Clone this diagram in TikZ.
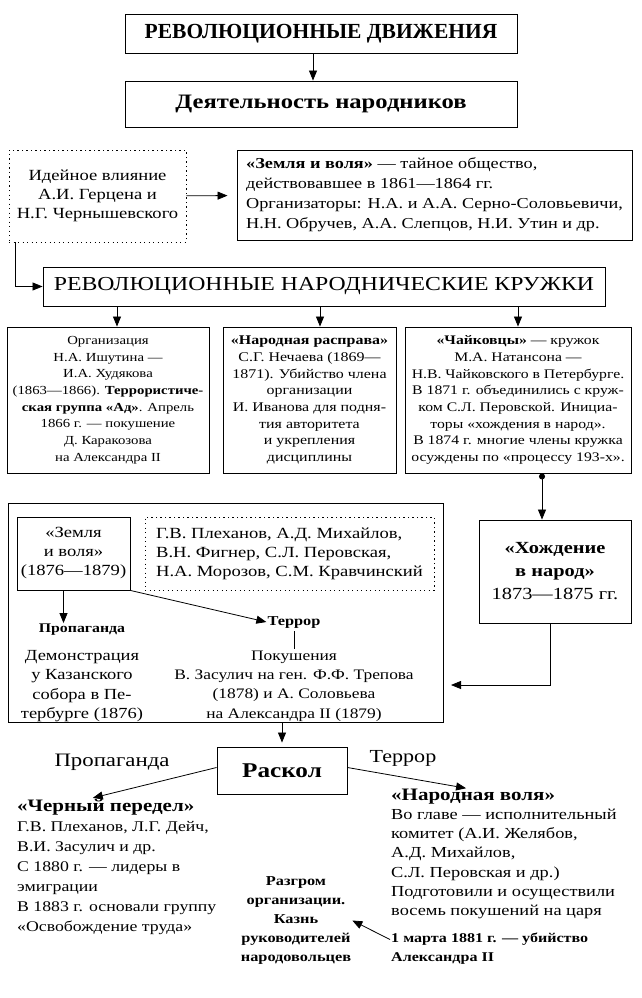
\documentclass[tikz,border=0pt]{standalone}
\usepackage{fontspec}
\setmainfont{Liberation Serif}[FakeStretch=1.2]
\newfontfamily\headserif{Liberation Serif}
\usetikzlibrary{arrows.meta}
\newcommand{\fsz}[2]{\fontsize{#1}{#2}\selectfont}

\begin{document}
\begin{tikzpicture}[x=1pt,y=-1pt,
  boxed/.style={draw,line width=0.9pt,inner sep=0pt,align=center},
  dotboxed/.style={boxed,dash pattern=on 1.2pt off 3.3pt},
  txt/.style={inner sep=1pt,align=center},
  arr/.style={line width=0.8pt,-{Triangle[length=10pt,width=8pt]}}]

\useasboundingbox (0,0) rectangle (641,998);

% Title boxes
\node[boxed,minimum width=392pt,minimum height=39pt,font=\headserif\bfseries\fsz{21.5}{24}] (rev) at (321,33.5) {РЕВОЛЮЦИОННЫЕ ДВИЖЕНИЯ};
\node[boxed,minimum width=392pt,minimum height=46pt,font=\bfseries\fsz{20.5}{24}] (act) at (321,104) {Деятельность народников};
\draw[arr] ([xshift=-8pt]rev.south) -- ([xshift=-8pt]act.north);

% Influence and first "Zemlya i volya"
\node[dotboxed,minimum width=177pt,minimum height=92pt,font=\fsz{15.5}{19}] (idea) at (97.5,196) {Идейное влияние\\А.И. Герцена и\\Н.Г. Чернышевского};
\node[boxed,align=left,minimum width=395pt,minimum height=90pt,font=\fsz{15.2}{20}] (zemlya) at (434.5,195) {\textbf{«Земля и воля»} — тайное общество,\\действовавшее в 1861—1864 гг.\\Организаторы: Н.А. и А.А. Серно-Соловьевичи,\\Н.Н. Обручев, А.А. Слепцов, Н.И. Утин и др.};
\draw[arr,shorten >=9pt] (idea) -- (zemlya);

% Circles
\node[boxed,minimum width=562pt,minimum height=39pt,font=\fsz{19.8}{22}] (circles) at (324,286.5) {РЕВОЛЮЦИОННЫЕ НАРОДНИЧЕСКИЕ КРУЖКИ};
\draw[arr] ([xshift=7pt]idea.south west) |- (circles.west);

\node[boxed,minimum width=202pt,minimum height=146pt,font=\fsz{12.3}{16.7}] (ishutin) at (108,400) {Организация\\Н.А. Ишутина —\\И.А. Худякова\\(1863—1866). \textbf{Террористиче-}\\\textbf{ская группа «Ад»}. Апрель\\1866 г. — покушение\\Д. Каракозова\\на Александра II};
\node[boxed,minimum width=173pt,minimum height=146pt,font=\fsz{13.3}{16.7}] (nechaev) at (309.5,400) {\textbf{«Народная расправа»}\\С.Г. Нечаева (1869—\\1871). Убийство члена\\организации\\И. Иванова для подня-\\тия авторитета\\и укрепления\\дисциплины};
\node[boxed,minimum width=226pt,minimum height=146pt,font=\fsz{13.1}{16.7}] (chaik) at (518,400) {\textbf{«Чайковцы»} — кружок\\М.А. Натансона —\\Н.В. Чайковского в Петербурге.\\В 1871 г. объединились с круж-\\ком С.Л. Перовской. Инициа-\\торы «хождения в народ».\\В 1874 г. многие члены кружка\\осуждены по «процессу 193-х».};
\draw[arr] ([xshift=9pt]ishutin.north |- circles.south) -- ([xshift=9pt]ishutin.north);
\draw[arr] ([xshift=10.5pt]nechaev.north |- circles.south) -- ([xshift=10.5pt]nechaev.north);
\draw[arr] (chaik.north |- circles.south) -- (chaik.north);

% Going to the people
\node[boxed,minimum width=152pt,minimum height=103pt,font=\fsz{17}{23}] (walk) at (555,571.5) {\textbf{«Хождение}\\\textbf{в народ»}\\1873—1875 гг.};
\draw[line width=0.8pt,{Circle[length=6pt]}-{Triangle[length=10pt,width=8pt]}] ([xshift=24pt]chaik.south) -- ([xshift=24pt]chaik.south |- walk.north);

% Second "Zemlya i volya"
\node[boxed,minimum width=435pt,minimum height=219pt] (big) at (225.5,612.5) {};
\node[boxed,minimum width=113pt,minimum height=73pt,font=\fsz{15.5}{19}] (zv) at (73.5,553.5) {«Земля\\и воля»\\(1876—1879)};
\node[dotboxed,align=left,minimum width=289pt,minimum height=73pt,font=\fsz{15.5}{19}] (members) at (289.5,553.5) {Г.В. Плеханов, А.Д. Михайлов,\\В.Н. Фигнер, С.Л. Перовская,\\Н.А. Морозов, С.М. Кравчинский};

\node[txt,font=\bfseries\fsz{13.2}{16}] (prop) at (82,630) {Пропаганда};
\node[txt,font=\fsz{15.4}{19.3}] (demo) at (82,686) {Демонстрация\\у Казанского\\собора в Пе-\\тербурге (1876)};
\node[txt,font=\bfseries\fsz{13.6}{16}] (terr) at (294,622) {Террор};
\node[txt,font=\fsz{14.5}{19.3}] (attempt) at (294,686) {Покушения\\В. Засулич на ген. Ф.Ф. Трепова\\(1878) и А. Соловьева\\на Александра II (1879)};

\draw[arr] ([xshift=-10pt]zv.south) -- ([xshift=-10pt]zv.south |- prop.north);
\draw[arr] (zv.south east) -- (terr.west);
\draw[line width=0.6pt,shorten <=2pt,shorten >=1pt] (terr) -- (attempt);

\coordinate (back) at (451,685);
\draw[arr] ([xshift=-5pt]walk.south) |- (back);

% Split
\node[boxed,minimum width=130pt,minimum height=47pt,font=\bfseries\fsz{21}{24}] (split) at (282,770.5) {Раскол};
\draw[arr,shorten >=4pt] (split.north |- big.south) -- (split.north);

\node[txt,font=\fsz{19}{22}] (proplab) at (112,762) {Пропаганда};
\node[txt,font=\fsz{18.4}{22}] (terrlab) at (403,758) {Террор};

% Black repartition
\node[txt,anchor=west,font=\bfseries\fsz{17.5}{20}] (cp) at (16,807) {«Черный передел»};
\node[txt,anchor=west,align=left,font=\fsz{14.8}{20}] (cpbody) at (16,878) {Г.В. Плеханов, Л.Г. Дейч,\\В.И. Засулич и др.\\С 1880 г. — лидеры в\\эмиграции\\В 1883 г. основали группу\\«Освобождение труда»};

% People's will
\node[txt,anchor=west,font=\bfseries\fsz{17.5}{20}] (nv) at (390,797) {«Народная воля»};
\node[txt,anchor=west,align=left,font=\fsz{15.3}{19.2}] (nvbody) at (390,864) {Во главе — исполнительный\\комитет (А.И. Желябов,\\А.Д. Михайлов,\\С.Л. Перовская и др.)\\Подготовили и осуществили\\восемь покушений на царя};

\draw[arr] ([yshift=3pt]split.west) -- ([xshift=-13pt]cp.north);
\draw[arr] ([yshift=3pt]split.east) -- ([xshift=-7pt]nv.north);

% End of the organisation
\node[txt,font=\bfseries\fsz{13.6}{19.2}] (razgrom) at (296,920.5) {Разгром\\организации.\\Казнь\\руководителей\\народовольцев};
\node[txt,anchor=west,align=left,font=\bfseries\fsz{13.4}{19}] (march) at (390,948.5) {1 марта 1881 г. — убийство\\Александра II};
\draw[arr] ([yshift=9pt]march.west) -- (razgrom.east);

\end{tikzpicture}
\end{document}
